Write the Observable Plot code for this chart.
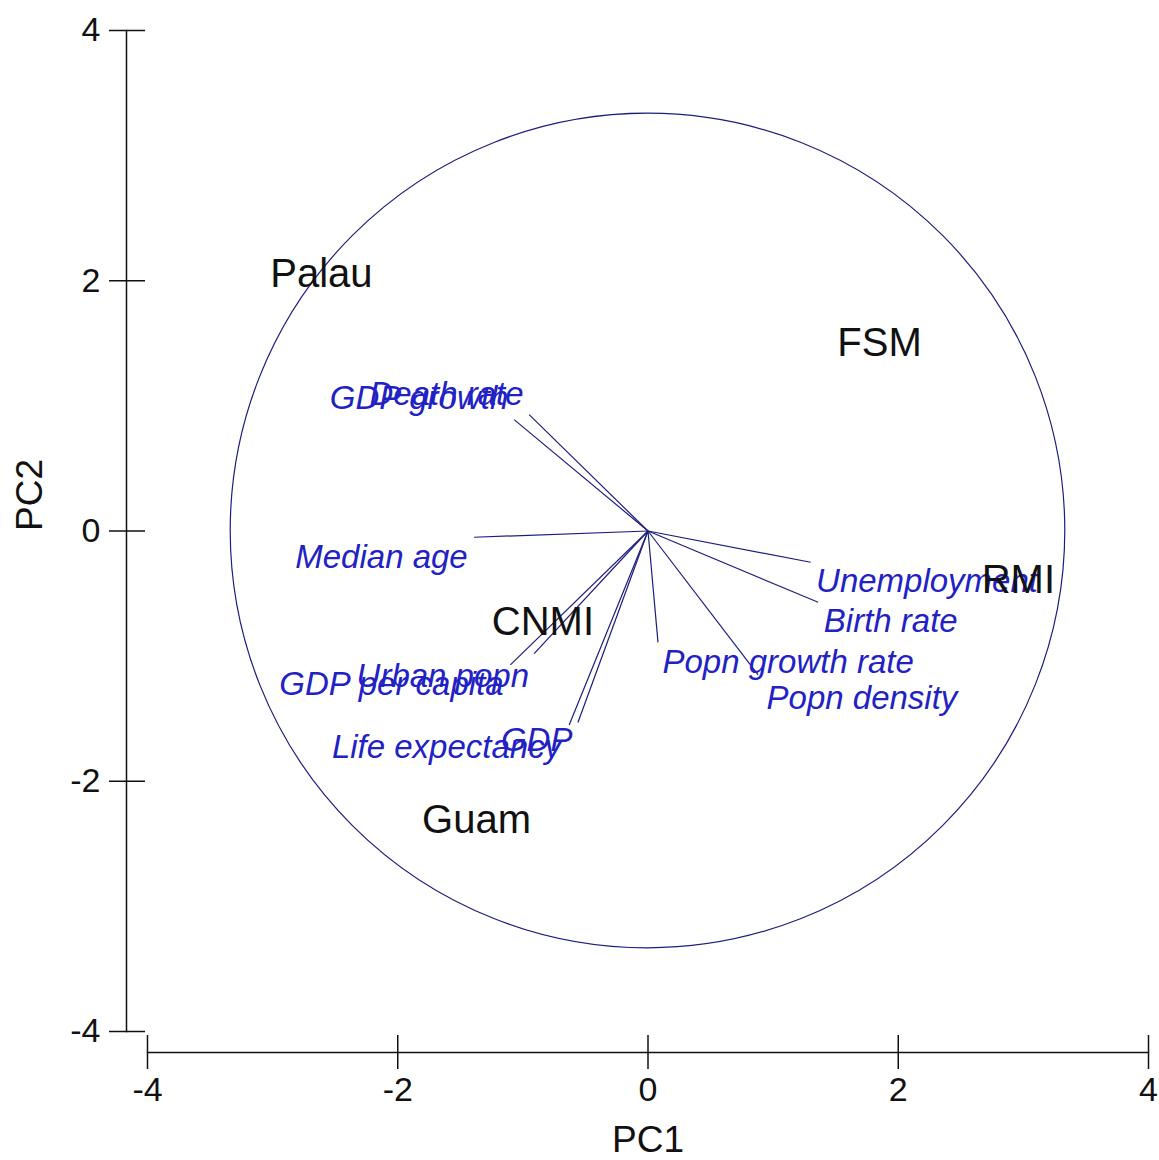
<!DOCTYPE html>
<html>
<head>
<meta charset="utf-8">
<script src="https://cdn.jsdelivr.net/npm/d3@7"></script>
<script src="https://cdn.jsdelivr.net/npm/@observablehq/plot@0.6"></script>
<style>
  html, body { margin: 0; padding: 0; background: #fff; }
  #chart svg { display: block; }
</style>
</head>
<body>
<div id="chart"></div>
<script>
// Sample scores (PC1, PC2) — label positions of the islands
const sites = ["Palau", "FSM", "RMI", "CNMI", "Guam"];
const siteX = [-2.61, 1.85, 2.96, -0.84, -1.37];
const siteY = [2.05, 1.50, -0.39, -0.73, -2.31];

// Variable loadings (end of each vector)
const variables = ["Death rate", "GDP growth", "Median age", "Unemployment", "Birth rate",
  "Popn growth rate", "Popn density", "Urban popn", "GDP per capita", "GDP", "Life expectancy"];
const loadX = [-0.95, -1.07, -1.39, 1.30, 1.36, 0.08, 0.88, -0.91, -1.10, -0.56, -0.63];
const loadY = [0.93, 0.89, -0.05, -0.25, -0.57, -0.89, -1.15, -0.98, -1.07, -1.53, -1.55];

// Where each variable's name is written
const labelX = [-1.61, -1.83, -2.13, 2.23, 1.94, 1.12, 1.71, -1.64, -2.05, -0.89, -1.61];
const labelY = [1.09, 1.06, -0.21, -0.40, -0.72, -1.05, -1.34, -1.16, -1.23, -1.67, -1.73];

// Equilibrium circle radius (PC units)
const circleRadius = 3.335;

const xTicks = [-4, -2, 0, 2, 4];
const yTicks = [-4, -2, 0, 2, 4];
const xLabel = "PC1";
const yLabel = "PC2";

const siteData = sites.map((s, i) => ({name: s, x: siteX[i], y: siteY[i]}));
const varData = variables.map((v, i) => ({name: v, x: loadX[i], y: loadY[i], lx: labelX[i], ly: labelY[i]}));

const font = "'Liberation Sans', Arial, Helvetica, sans-serif";
const axisColor = "#111";
const lineColor = "#1d1d7e";
const labelBlue = "#2222c4";

const circleMark = (index, {x, y}) => {
  const c = document.createElementNS("http://www.w3.org/2000/svg", "circle");
  c.setAttribute("cx", x(0));
  c.setAttribute("cy", y(0));
  c.setAttribute("r", x(circleRadius) - x(0));
  c.setAttribute("fill", "none");
  c.setAttribute("stroke", lineColor);
  c.setAttribute("stroke-width", 1.2);
  return c;
};

const plot = Plot.plot({
  width: 1159,
  height: 1160,
  marginLeft: 147,
  marginRight: 11,
  marginTop: 30,
  marginBottom: 129,
  x: {domain: [-4, 4]},
  y: {domain: [-4, 4]},
  style: {fontFamily: font, background: "#fff", color: axisColor},
  marks: [
    Plot.frame({anchor: "bottom", dy: 21, stroke: axisColor, strokeWidth: 1.5}),
    Plot.frame({anchor: "left", dx: -21, stroke: axisColor, strokeWidth: 1.5}),
    Plot.axisX({ticks: xTicks, tickFormat: d => String(d), tickSize: 34, dy: 4, tickPadding: 7,
      fontSize: 34, label: null, stroke: axisColor, strokeWidth: 1.5, fill: axisColor}),
    Plot.axisY({ticks: yTicks, tickFormat: d => String(d), tickSize: 36, dx: -2, tickPadding: 9,
      fontSize: 34, label: null, stroke: axisColor, strokeWidth: 1.5, fill: axisColor}),
    Plot.text([xLabel], {frameAnchor: "bottom", dy: 120, fontSize: 37, fill: axisColor}),
    Plot.text([yLabel], {frameAnchor: "left", dx: -117, rotate: -90, fontSize: 37, fill: axisColor}),
    circleMark,
    Plot.link(varData, {x1: () => 0, y1: () => 0, x2: "x", y2: "y", stroke: lineColor, strokeWidth: 1.2}),
    Plot.text(varData, {x: "lx", y: "ly", text: "name", fill: labelBlue, fontSize: 33, fontStyle: "italic"}),
    Plot.text(siteData, {x: "x", y: "y", text: "name", fill: "#111", fontSize: 40})
  ]
});

document.getElementById("chart").appendChild(plot);
</script>
</body>
</html>
